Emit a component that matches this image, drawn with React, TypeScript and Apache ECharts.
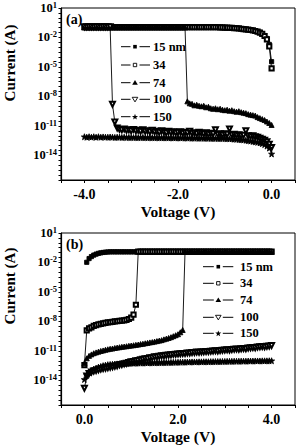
import React, { useEffect, useRef } from "react";
import * as echarts from "echarts";

const FONT = "Liberation Serif";

// Voltage sweeps (V)
const voltsA = [
  -4, -3.95, -3.9, -3.85, -3.8, -3.75, -3.7, -3.65, -3.6, -3.55,
  -3.5, -3.45, -3.4, -3.35, -3.3, -3.25, -3.2, -3.15, -3.1, -3.05,
  -3, -2.95, -2.9, -2.85, -2.8, -2.75, -2.7, -2.65, -2.6, -2.55,
  -2.5, -2.45, -2.4, -2.35, -2.3, -2.25, -2.2, -2.15, -2.1, -2.05,
  -2, -1.95, -1.9, -1.85, -1.8, -1.75, -1.7, -1.65, -1.6, -1.55,
  -1.5, -1.45, -1.4, -1.35, -1.3, -1.25, -1.2, -1.15, -1.1, -1.05,
  -1, -0.95, -0.9, -0.85, -0.8, -0.75, -0.7, -0.65, -0.6, -0.55,
  -0.5, -0.45, -0.4, -0.35, -0.3, -0.25, -0.2, -0.15, -0.1, -0.05, 0,
];
const voltsB = [
  0, 0.05, 0.1, 0.15, 0.2, 0.25, 0.3, 0.35, 0.4, 0.45,
  0.5, 0.55, 0.6, 0.65, 0.7, 0.75, 0.8, 0.85, 0.9, 0.95,
  1, 1.05, 1.1, 1.15, 1.2, 1.25, 1.3, 1.35, 1.4, 1.45,
  1.5, 1.55, 1.6, 1.65, 1.7, 1.75, 1.8, 1.85, 1.9, 1.95,
  2, 2.05, 2.1, 2.15, 2.2, 2.25, 2.3, 2.35, 2.4, 2.45,
  2.5, 2.55, 2.6, 2.65, 2.7, 2.75, 2.8, 2.85, 2.9, 2.95,
  3, 3.05, 3.1, 3.15, 3.2, 3.25, 3.3, 3.35, 3.4, 3.45,
  3.5, 3.55, 3.6, 3.65, 3.7, 3.75, 3.8, 3.85, 3.9, 3.95, 4,
];

// Current values as log10(I / A)
// Panel (a)
const a15 = [
  -0.97, -0.97, -0.97, -0.97, -0.97, -0.97, -0.97, -0.97, -0.97, -0.97,
  -0.97, -0.97, -0.97, -0.97, -0.97, -0.97, -0.97, -0.97, -0.97, -0.97,
  -0.97, -0.97, -0.97, -0.97, -0.97, -0.97, -0.97, -0.97, -0.97, -0.97,
  -0.97, -0.97, -0.97, -0.97, -0.97, -0.97, -0.97, -0.97, -0.97, -0.97,
  -0.97, -0.97, -0.97, -0.97, -0.97, -0.97, -0.97, -0.97, -0.97, -0.97,
  -0.97, -0.97, -0.97, -0.97, -0.97, -0.97, -0.97, -0.98, -0.99, -1.0,
  -1.0, -1.01, -1.02, -1.03, -1.05, -1.07, -1.09, -1.12, -1.15, -1.18,
  -1.2, -1.24, -1.28, -1.33, -1.4, -1.48, -1.6, -1.8, -2.1, -2.7, -4.46,
];
const a34 = [
  -0.95, -0.95, -0.95, -0.95, -0.95, -0.95, -0.95, -0.95, -0.95, -0.95,
  -0.95, -0.95, -0.95, -0.95, -0.95, -0.95, -0.95, -0.95, -0.95, -0.95,
  -0.95, -0.95, -0.95, -0.95, -0.95, -0.95, -0.95, -0.95, -0.95, -0.95,
  -0.95, -0.95, -0.95, -0.95, -0.95, -0.95, -0.95, -0.95, -0.95, -0.95,
  -0.95, -0.95, -0.95, -0.95, -0.95, -0.95, -0.95, -0.95, -0.95, -0.95,
  -0.95, -0.95, -0.95, -0.95, -0.95, -0.95, -0.95, -0.96, -0.97, -0.98,
  -0.99, -1.0, -1.01, -1.02, -1.04, -1.06, -1.08, -1.11, -1.14, -1.17,
  -1.2, -1.24, -1.28, -1.34, -1.41, -1.5, -1.63, -1.85, -2.2, -2.9, -5.15,
];
const a74 = [
  -0.97, -0.97, -0.97, -0.97, -0.97, -0.97, -0.97, -0.97, -0.97, -0.97,
  -0.97, -0.97, -0.97, -0.97, -0.97, -0.97, -0.97, -0.97, -0.97, -0.97,
  -0.97, -0.97, -0.97, -0.97, -0.97, -0.97, -0.97, -0.97, -0.97, -0.97,
  -0.97, -0.97, -0.97, -0.97, -0.97, -0.97, -0.97, -0.97, -0.97, -0.97,
  -0.97, -0.97, -0.97, -0.97, -8.5, -8.7, -8.75, -8.9, -8.85, -8.95,
  -9.0, -8.95, -9.1, -9.05, -9.2, -9.25, -9.2, -9.3, -9.25, -9.35,
  -9.4, -9.35, -9.45, -9.4, -9.5, -9.55, -9.5, -9.6, -9.65, -9.7,
  -9.8, -9.85, -9.9, -9.95, -10.1, -10.2, -10.3, -10.4, -10.55, -10.7, -10.9,
];
const a100 = [
  -0.9, -0.9, -0.9, -0.9, -0.9, -0.9, -0.9, -0.9, -0.9, -0.9,
  -0.9, -0.9, -8.8, -10.6, -11.2, -11.35, -11.4, -11.3, -11.45, -11.4,
  -11.5, -11.35, -11.5, -11.45, -11.55, -11.4, -11.55, -11.5, -11.6, -11.45,
  -11.6, -11.55, -11.65, -11.5, -11.6, -11.7, -11.55, -11.65, -11.6, -11.7,
  -11.65, -11.6, -11.75, -11.65, -11.7, -11.55, -11.75, -11.7, -11.8, -11.65,
  -11.75, -11.8, -11.7, -11.85, -11.75, -11.8, -11.4, -11.85, -11.8, -11.9,
  -11.8, -11.85, -11.3, -11.9, -11.85, -11.95, -11.9, -12.0, -11.95, -11.5,
  -12.0, -12.05, -12.0, -12.1, -12.15, -12.25, -12.35, -12.45, -12.6, -12.85, -13.2,
];
const a150 = [
  -12.1, -12.15, -12.1, -12.15, -12.1, -12.15, -12.1, -12.15, -12.12, -12.15,
  -12.15, -12.13, -12.15, -12.17, -12.15, -12.15, -12.17, -12.15, -12.18, -12.17,
  -12.17, -12.18, -12.17, -12.19, -12.18, -12.17, -12.19, -12.2, -12.18, -12.2,
  -12.2, -12.19, -12.21, -12.2, -12.21, -12.2, -12.22, -12.21, -12.22, -12.22,
  -12.22, -12.23, -12.22, -12.23, -12.24, -12.23, -12.24, -12.25, -12.24, -12.25,
  -12.25, -12.26, -12.25, -12.26, -12.27, -12.26, -12.27, -12.28, -12.27, -12.28,
  -12.28, -12.3, -12.3, -12.32, -12.34, -12.36, -12.38, -12.4, -12.43, -12.46,
  -12.5, -12.54, -12.58, -12.62, -12.67, -12.72, -12.8, -12.9, -13.05, -13.25, -13.85,
];

// Panel (b)
const b15 = [
  null, -1.98, -1.6, -1.4, -1.25, -1.15, -1.07, -1.02, -0.98, -0.95,
  -0.93, -0.92, -0.92, -0.92, -0.92, -0.92, -0.92, -0.92, -0.92, -0.92,
  -0.92, -0.92, -0.92, -0.92, -0.92, -0.92, -0.92, -0.92, -0.92, -0.92,
  -0.92, -0.92, -0.92, -0.92, -0.92, -0.92, -0.92, -0.92, -0.92, -0.92,
  -0.92, -0.92, -0.92, -0.92, -0.92, -0.92, -0.92, -0.92, -0.92, -0.92,
  -0.92, -0.92, -0.92, -0.92, -0.92, -0.92, -0.92, -0.92, -0.92, -0.92,
  -0.92, -0.92, -0.92, -0.92, -0.92, -0.92, -0.92, -0.92, -0.92, -0.92,
  -0.92, -0.92, -0.92, -0.92, -0.92, -0.92, -0.92, -0.92, -0.92, -0.92, -0.92,
];
const b34 = [
  -12.45, -8.9, -8.7, -8.6, -8.45, -8.38, -8.3, -8.25, -8.2, -8.15,
  -8.1, -8.08, -8.05, -8.0, -7.98, -7.95, -7.92, -7.88, -7.83, -7.75,
  -7.6, -7.3, -6.3, -0.9, -0.9, -0.9, -0.9, -0.9, -0.9, -0.9,
  -0.9, -0.9, -0.9, -0.9, -0.9, -0.9, -0.9, -0.9, -0.9, -0.9,
  -0.9, -0.9, -0.9, -0.9, -0.9, -0.9, -0.9, -0.9, -0.9, -0.9,
  -0.9, -0.9, -0.9, -0.9, -0.9, -0.9, -0.9, -0.9, -0.9, -0.9,
  -0.9, -0.9, -0.9, -0.9, -0.9, -0.9, -0.9, -0.9, -0.9, -0.9,
  -0.9, -0.9, -0.9, -0.9, -0.9, -0.9, -0.9, -0.9, -0.9, -0.9, -0.9,
];
const b74 = [
  -12.25, -11.75, -11.5, -11.35, -11.23, -11.15, -11.07, -11.0, -10.95, -10.88,
  -10.83, -10.78, -10.75, -10.7, -10.66, -10.62, -10.58, -10.55, -10.52, -10.48,
  -10.45, -10.42, -10.38, -10.35, -10.3, -10.27, -10.22, -10.18, -10.13, -10.1,
  -10.05, -10.0, -9.95, -9.9, -9.82, -9.75, -9.68, -9.6, -9.5, -9.4,
  -9.3, -9.1, -8.87, -0.92, -0.92, -0.92, -0.92, -0.92, -0.92, -0.92,
  -0.92, -0.92, -0.92, -0.92, -0.92, -0.92, -0.92, -0.92, -0.92, -0.92,
  -0.92, -0.92, -0.92, -0.92, -0.92, -0.92, -0.92, -0.92, -0.92, -0.92,
  -0.92, -0.92, -0.92, -0.92, -0.92, -0.92, -0.92, -0.92, -0.92, -0.92, -0.92,
];
const b100 = [
  -14.8, -13.55, -13.3, -13.15, -13.05, -13.0, -12.92, -12.85, -12.8, -12.75,
  -12.7, -12.65, -12.6, -12.55, -12.5, -12.4, -12.38, -12.3, -12.25, -12.18,
  -12.1, -12.08, -12.0, -11.98, -11.9, -11.85, -11.8, -11.78, -11.7, -11.68,
  -11.6, -11.58, -11.55, -11.5, -11.48, -11.45, -11.42, -11.4, -11.35, -11.33,
  -11.3, -11.28, -11.25, -11.25, -11.2, -11.2, -11.17, -11.15, -11.12, -11.13,
  -11.1, -11.08, -11.05, -11.07, -11.02, -11.0, -10.98, -11.0, -10.95, -10.93,
  -10.9, -10.88, -10.9, -10.85, -10.82, -10.8, -10.83, -10.77, -10.75, -10.78,
  -10.7, -10.68, -10.65, -10.67, -10.6, -10.58, -10.55, -10.57, -10.52, -10.5, -10.45,
];
const b150 = [
  -13.9, -13.5, -13.2, -13.0, -12.85, -12.75, -12.65, -12.58, -12.5, -12.45,
  -12.4, -12.38, -12.36, -12.34, -12.32, -12.3, -12.29, -12.28, -12.27, -12.26,
  -12.25, -12.25, -12.24, -12.24, -12.23, -12.23, -12.22, -12.22, -12.21, -12.21,
  -12.2, -12.2, -12.19, -12.19, -12.18, -12.18, -12.17, -12.17, -12.16, -12.16,
  -12.15, -12.15, -12.14, -12.14, -12.13, -12.13, -12.12, -12.12, -12.12, -12.11,
  -12.11, -12.1, -12.1, -12.1, -12.09, -12.09, -12.08, -12.08, -12.08, -12.07,
  -12.07, -12.06, -12.06, -12.06, -12.05, -12.05, -12.05, -12.04, -12.04, -12.04,
  -12.03, -12.03, -12.03, -12.02, -12.02, -12.02, -12.01, -12.01, -12.01, -12.0, -12.0,
];

const seriesNames = ["15 nm", "34", "74", "100", "150"];
const xTickLabelsA = ["-4.0", "-2.0", "0.0"];
const xTickLabelsB = ["0.0", "2.0", "4.0"];
const yTickExponents = [1, -2, -5, -8, -11, -14];

const STAR =
  "path://M12,0L14.9,8.6L24,8.6L16.6,14L19.4,22.8L12,17.4L4.6,22.8L7.4,14L0,8.6L9.1,8.6Z";

const symbolStyles = [
  { symbol: "rect", symbolSize: 4.2, symbolRotate: 0 },
  { symbol: "emptyRect", symbolSize: 4.2, symbolRotate: 0 },
  { symbol: "triangle", symbolSize: 5, symbolRotate: 0 },
  { symbol: "emptyTriangle", symbolSize: 5, symbolRotate: 180 },
  { symbol: STAR, symbolSize: 6, symbolRotate: 0 },
];

function buildSeries(xs: number[], ys: (number | null)[][], gridIndex: number) {
  return ys.map((vals, k) => ({
    type: "line",
    name: seriesNames[k],
    xAxisIndex: gridIndex,
    yAxisIndex: gridIndex,
    data: xs
      .map((x, i) => [x, vals[i]])
      .filter((p) => p[1] !== null),
    symbol: symbolStyles[k].symbol,
    symbolSize: symbolStyles[k].symbolSize,
    symbolRotate: symbolStyles[k].symbolRotate,
    showAllSymbol: true,
    lineStyle: { color: "#000", width: 0.9 },
    itemStyle: { color: "#000", borderColor: "#000", borderWidth: 0.9 },
    emphasis: { disabled: true },
  }));
}

function fmtV(v: number) {
  return Math.abs(v) < 1e-9 ? "0.0" : v.toFixed(1);
}

function xAxisFor(gridIndex: number, min: number, max: number, labels: string[]) {
  return {
    type: "value",
    gridIndex,
    min,
    max,
    interval: 0.5,
    name: "Voltage (V)",
    nameLocation: "middle",
    nameGap: 23,
    nameTextStyle: { fontFamily: FONT, fontWeight: "bold", fontSize: 15.5, color: "#000" },
    axisLine: { onZero: false, lineStyle: { color: "#000", width: 1.2 } },
    axisTick: { inside: false, length: 3, lineStyle: { color: "#000" } },
    splitLine: { show: false },
    axisLabel: {
      margin: 7,
      fontFamily: FONT,
      fontWeight: "bold",
      fontSize: 14,
      color: "#000",
      showMinLabel: true,
      showMaxLabel: true,
      formatter: (v: number) => {
        const s = fmtV(v);
        return labels.indexOf(s) >= 0 ? s : "";
      },
    },
  };
}

function yAxisFor(gridIndex: number) {
  return {
    type: "value",
    gridIndex,
    min: -16.5,
    max: 1,
    interval: 0.5,
    axisLine: { onZero: false, lineStyle: { color: "#000", width: 1.2 } },
    axisTick: { inside: false, length: 2.5, lineStyle: { color: "#000" } },
    splitLine: { show: false },
    axisLabel: {
      margin: 4,
      color: "#000",
      showMinLabel: true,
      showMaxLabel: true,
      formatter: (v: number) => {
        const k = Math.round(v * 2) / 2;
        if (yTickExponents.indexOf(k) >= 0) return `{b|10}{s|${k}}`;
        return "";
      },
      rich: {
        b: { fontFamily: FONT, fontWeight: "bold", fontSize: 12.5, lineHeight: 15, color: "#000" },
        s: {
          fontFamily: FONT,
          fontWeight: "bold",
          fontSize: 8.5,
          lineHeight: 8,
          verticalAlign: "top",
          color: "#000",
        },
      },
    },
  };
}

// Hand-drawn legend marks (line - symbol - line, then the label)
function legendGraphics(x0: number, xs: number, xe: number, tx: number, rows: number[]) {
  const els: any[] = [];
  const stroke = { stroke: "#000", lineWidth: 1 };
  rows.forEach((y, k) => {
    els.push({ type: "line", shape: { x1: x0, y1: y, x2: xs - 4.5, y2: y }, style: stroke });
    els.push({ type: "line", shape: { x1: xs + 4.5, y1: y, x2: xe, y2: y }, style: stroke });
    if (k === 0) {
      els.push({ type: "rect", shape: { x: xs - 1.8, y: y - 1.8, width: 3.6, height: 3.6 }, style: { fill: "#000" } });
    } else if (k === 1) {
      els.push({ type: "rect", shape: { x: xs - 1.7, y: y - 1.7, width: 3.4, height: 3.4 }, style: { fill: "#fff", stroke: "#000", lineWidth: 0.9 } });
    } else if (k === 2) {
      els.push({ type: "polygon", shape: { points: [[xs, y - 2.6], [xs + 2.8, y + 2], [xs - 2.8, y + 2]] }, style: { fill: "#000" } });
    } else if (k === 3) {
      els.push({ type: "polygon", shape: { points: [[xs - 2.8, y - 2], [xs + 2.8, y - 2], [xs, y + 2.6]] }, style: { fill: "#fff", stroke: "#000", lineWidth: 0.9 } });
    } else {
      const pts: number[][] = [];
      for (let i = 0; i < 10; i++) {
        const r = i % 2 === 0 ? 3.2 : 1.3;
        const a = -Math.PI / 2 + (i * Math.PI) / 5;
        pts.push([xs + r * Math.cos(a), y + 0.3 + r * Math.sin(a)]);
      }
      els.push({ type: "polygon", shape: { points: pts }, style: { fill: "#000" } });
    }
    els.push({
      type: "text",
      x: tx,
      y,
      style: { text: seriesNames[k], font: `bold 12.5px ${FONT}`, fill: "#000", align: "left", verticalAlign: "middle" },
    });
  });
  return els;
}

export default function App() {
  const ref = useRef<HTMLDivElement>(null);
  useEffect(() => {
    if (!ref.current) return;
    const chart = echarts.init(ref.current, null, { renderer: "svg" });
    const labelFont = `bold 15px ${FONT}`;
    chart.setOption({
      animation: false,
      backgroundColor: "#fff",
      textStyle: { fontFamily: FONT },
      grid: [
        { left: 61, top: 8, width: 235, height: 172, show: true, borderColor: "#000", borderWidth: 1, backgroundColor: "transparent" },
        { left: 61, top: 233, width: 235, height: 172, show: true, borderColor: "#000", borderWidth: 1, backgroundColor: "transparent" },
      ],
      xAxis: [xAxisFor(0, -4.5, 0.5, xTickLabelsA), xAxisFor(1, -0.5, 4.5, xTickLabelsB)],
      yAxis: [yAxisFor(0), yAxisFor(1)],
      graphic: [
        { type: "text", x: 10, y: 63, rotation: Math.PI / 2, style: { text: "Current (A)", font: labelFont, fill: "#000", align: "center", verticalAlign: "middle" } },
        { type: "text", x: 10, y: 286, rotation: Math.PI / 2, style: { text: "Current (A)", font: labelFont, fill: "#000", align: "center", verticalAlign: "middle" } },
        { type: "text", x: 66, y: 19, style: { text: "(a)", font: `bold 14px ${FONT}`, fill: "#000", align: "left", verticalAlign: "middle" } },
        { type: "text", x: 66, y: 244, style: { text: "(b)", font: `bold 14px ${FONT}`, fill: "#000", align: "left", verticalAlign: "middle" } },
        ...legendGraphics(121, 135, 150, 153, [46.7, 65, 82.7, 99.3, 116.7]),
        ...legendGraphics(203, 218.3, 233.3, 240, [266.7, 283.3, 300, 317.3, 333.3]),
      ],
      series: [
        ...buildSeries(voltsA, [a15, a34, a74, a100, a150], 0),
        ...buildSeries(voltsB, [b15, b34, b74, b100, b150], 1),
      ],
    });
    return () => chart.dispose();
  }, []);
  return (
    <div
      ref={ref}
      style={{ position: "absolute", left: 0, top: 0, width: 298, height: 448 }}
    />
  );
}
